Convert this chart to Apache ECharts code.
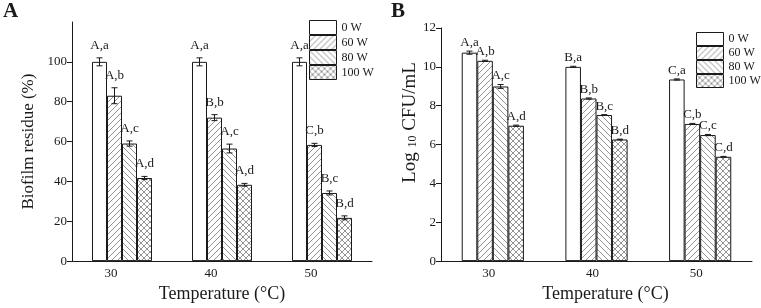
<!DOCTYPE html>
<html>
<head>
<meta charset="utf-8">
<script src="https://cdn.jsdelivr.net/npm/echarts@6/dist/echarts.min.js"></script>
<style>
html, body { margin: 0; background: #fff; }
#chart { width: 761px; height: 308px; }
</style>
</head>
<body>
<div id="chart"></div>
<script>
const categories = ['30', '40', '50']
const powers = ['0 W', '60 W', '80 W', '100 W']

// A: biofilm residue (%), one row per power
const residue = [[100, 100, 100], [83, 72, 58.3], [59, 56.5, 34.2], [41.7, 38.3, 21.7]]
const residueErr = [[2, 2, 2], [4, 1.5, 0.8], [1.3, 2.2, 1], [0.8, 0.7, 1]]
const residueSig = [['A,a', 'A,a', 'A,a'], ['A,b', 'B,b', 'C,b'], ['A,c', 'A,c', 'B,c'], ['A,d', 'A,d', 'B,d']]
const ticksA = [0, 20, 40, 60, 80, 100]

// B: log10 CFU/mL
const counts = [[10.73, 10.0, 9.35], [10.31, 8.37, 7.06], [8.99, 7.52, 6.49], [6.97, 6.26, 5.37]]
const countsErr = [[0.08, 0.03, 0.03], [0.03, 0.03, 0.03], [0.1, 0.02, 0.03], [0.03, 0.02, 0.02]]
const countsSig = [['A,a', 'B,a', 'C,a'], ['A,b', 'B,b', 'C,b'], ['A,c', 'B,c', 'C,c'], ['A,d', 'B,d', 'C,d']]
const ticksB = [0, 2, 4, 6, 8, 10, 12]

const FONT = '"Liberation Serif", "Times New Roman", serif'
const INK = '#1a1a1a'

// hatch tiles: '/' , '\' or both
function hatch (dirs) {
  const s = 6
  const c = document.createElement('canvas')
  c.width = c.height = s
  const g = c.getContext('2d')
  g.fillStyle = '#fff'
  g.fillRect(0, 0, s, s)
  g.strokeStyle = '#666'
  g.lineWidth = 0.7
  const seg = (a, b, x, y) => { g.beginPath(); g.moveTo(a, b); g.lineTo(x, y); g.stroke() }
  if (dirs.includes('/')) {
    seg(0, s, s, 0); seg(-1, 1, 1, -1); seg(s - 1, s + 1, s + 1, s - 1)
  }
  if (dirs.includes('\\')) {
    seg(0, 0, s, s); seg(s - 1, -1, s + 1, 1); seg(-1, s - 1, 1, s + 1)
  }
  return { image: c, repeat: 'repeat' }
}
const fills = ['#fff', hatch('/'), hatch('\\'), hatch('/\\')]

function bars (data, idx) {
  return data.map((vals, k) => ({
    type: 'bar',
    name: powers[k],
    xAxisIndex: idx,
    yAxisIndex: idx,
    data: vals,
    barGap: '0%',
    barCategoryGap: '40%',
    itemStyle: { color: fills[k], borderColor: INK, borderWidth: 1 },
    emphasis: { disabled: true }
  }))
}

// error bars + significance letters
function errs (data, err, sig, idx, gap) {
  return data.map((vals, k) => ({
    type: 'custom',
    xAxisIndex: idx,
    yAxisIndex: idx,
    z: 5,
    encode: { x: 0, y: 1 },
    data: vals.map((v, i) => [i, v, err[k][i]]),
    renderItem (params, api) {
      const i = api.value(0), v = api.value(1), e = api.value(2)
      const bw = api.size([1, 0])[0] * 0.6 / 4
      const x = api.coord([i, v])[0] + (k - 1.5) * bw
      const yt = api.coord([i, v + e])[1]
      const yb = api.coord([i, v - e])[1]
      const ln = { stroke: INK, lineWidth: 1 }
      return {
        type: 'group',
        children: [
          { type: 'line', shape: { x1: x, y1: yt, x2: x, y2: yb }, style: ln },
          { type: 'line', shape: { x1: x - 3, y1: yt, x2: x + 3, y2: yt }, style: ln },
          { type: 'line', shape: { x1: x - 3, y1: yb, x2: x + 3, y2: yb }, style: ln },
          {
            type: 'text',
            style: {
              text: sig[k][params.dataIndex], x: x, y: yt - gap,
              align: 'center', verticalAlign: 'bottom',
              font: '13px ' + FONT, fill: INK
            }
          }
        ]
      }
    }
  }))
}

const xAxisBase = (idx, shift, nameShift) => ({
  type: 'category',
  gridIndex: idx,
  data: categories,
  axisTick: { show: false },
  axisLine: { lineStyle: { color: INK, width: 1 } },
  axisLabel: { fontSize: 13, fontFamily: FONT, color: INK, margin: 6, padding: [0, shift, 0, 0] },
  name: 'Temperature (°C)',
  nameLocation: 'middle',
  nameGap: 19,
  nameTextStyle: { fontSize: 18, fontFamily: FONT, color: INK, padding: [0, 0, 0, nameShift] }
})

const yAxisBase = (idx, max, interval, ticks) => ({
  type: 'value',
  gridIndex: idx,
  min: 0,
  max: max,
  interval: interval,
  splitLine: { show: false },
  axisLine: { show: true, lineStyle: { color: INK, width: 1 } },
  axisTick: { show: true, length: 5, customValues: ticks, lineStyle: { color: INK } },
  axisLabel: { fontSize: 13, fontFamily: FONT, color: INK, margin: 5, customValues: ticks },
  nameLocation: 'middle'
})

const legendBase = (left, top, h) => ({
  left: left,
  top: top,
  padding: 0,
  orient: 'vertical',
  itemGap: 0,
  itemWidth: 27,
  itemHeight: h,
  icon: 'rect',
  selectedMode: false,
  data: powers,
  itemStyle: { borderWidth: 1, borderColor: INK },
  textStyle: { fontSize: 12, fontFamily: FONT, color: INK, lineHeight: h }
})

const yA = yAxisBase(0, 120, 20, ticksA)
yA.name = 'Biofilm residue (%)'
yA.nameGap = 35
yA.nameTextStyle = { fontSize: 17, fontFamily: FONT, color: INK }

const yB = yAxisBase(1, 12, 2, ticksB)
yB.name = '{a|Log }{s|10}{a| CFU/mL}'
yB.nameGap = 20
yB.nameTextStyle = {
  fontFamily: FONT, color: INK, padding: [0, 0, 0, 44],
  rich: {
    a: { fontSize: 19, fontFamily: FONT, color: INK },
    s: { fontSize: 12, fontFamily: FONT, color: INK, verticalAlign: 'bottom' }
  }
}

const option = {
  backgroundColor: '#fff',
  animation: false,
  title: [
    { text: 'A', left: 3, top: 1, padding: 0, textStyle: { fontSize: 21, fontWeight: 'bold', fontFamily: FONT, color: INK } },
    { text: 'B', left: 391, top: 1, padding: 0, textStyle: { fontSize: 21, fontWeight: 'bold', fontFamily: FONT, color: INK } }
  ],
  legend: [legendBase(309, 20, 14), legendBase(696, 32, 13)],
  grid: [
    { left: 72, top: 22, width: 300, height: 241 },
    { left: 441, top: 28, width: 311, height: 234.5 }
  ],
  xAxis: [xAxisBase(0, 22, 0), xAxisBase(1, 8, 18)],
  yAxis: [yA, yB],
  series: [
    ...bars(residue, 0),
    ...errs(residue, residueErr, residueSig, 0, 6),
    ...bars(counts, 1),
    ...errs(counts, countsErr, countsSig, 1, 2)
  ]
}

const chart = echarts.init(document.getElementById('chart'))
chart.setOption(option)
</script>
</body>
</html>
